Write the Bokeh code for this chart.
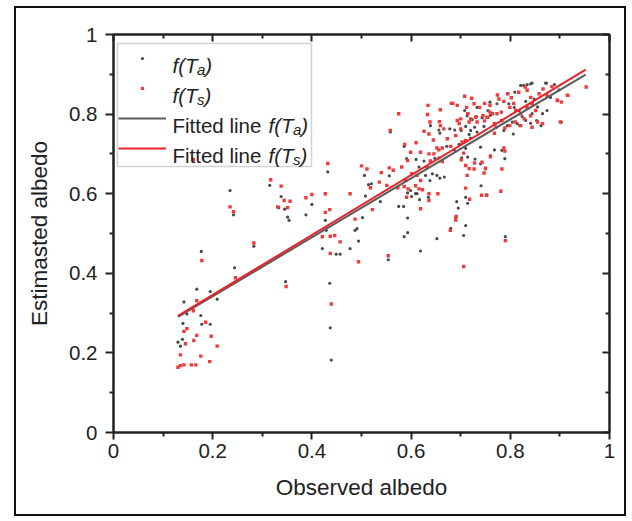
from bokeh.plotting import figure
from bokeh.layouts import row, column
from bokeh.models import (Range1d, FixedTicker, LinearAxis, Label, Legend,
                          LegendItem, ColumnDataSource, BoxAnnotation, Spacer)
from bokeh.embed import file_html
from bokeh.resources import INLINE

# ---------------- data ----------------
x_ticks = [0, 0.2, 0.4, 0.6, 0.8, 1.0]
tick_labels = ["0", "0.2", "0.4", "0.6", "0.8", "1"]
minor_ticks = [0.1, 0.3, 0.5, 0.7, 0.9]

# f(Ta): (observed, estimated)
ta_points = [
    (0.130, 0.227), (0.135, 0.217), (0.139, 0.234), (0.142, 0.328), (0.140, 0.274),
    (0.148, 0.298), (0.168, 0.360), (0.176, 0.294), (0.178, 0.272), (0.195, 0.272),
    (0.195, 0.354), (0.177, 0.455), (0.209, 0.335),
    (0.235, 0.608), (0.242, 0.547), (0.244, 0.414), (0.283, 0.468), (0.315, 0.621),
    (0.338, 0.593), (0.345, 0.561), (0.351, 0.541), (0.354, 0.533), (0.347, 0.379),
    (0.333, 0.565), (0.388, 0.547), (0.400, 0.573), (0.421, 0.462), (0.429, 0.508),
    (0.432, 0.655), (0.436, 0.375), (0.437, 0.263), (0.439, 0.182), (0.449, 0.448),
    (0.457, 0.448), (0.427, 0.533), (0.477, 0.462), (0.487, 0.508), (0.491, 0.512),
    (0.494, 0.481), (0.502, 0.540), (0.506, 0.646), (0.508, 0.594), (0.514, 0.623),
    (0.520, 0.625), (0.538, 0.580), (0.556, 0.645), (0.554, 0.434), (0.558, 0.755),
    (0.575, 0.801),
    (0.591, 0.688), (0.586, 0.719), (0.610, 0.686), (0.616, 0.667), (0.626, 0.682),
    (0.639, 0.682), (0.638, 0.633), (0.648, 0.689), (0.658, 0.639), (0.667, 0.642),
    (0.672, 0.719), (0.687, 0.710), (0.697, 0.724), (0.702, 0.690), (0.714, 0.692),
    (0.729, 0.687), (0.740, 0.675), (0.750, 0.662), (0.717, 0.749), (0.720, 0.740),
    (0.733, 0.755), (0.747, 0.769), (0.720, 0.759), (0.728, 0.767), (0.710, 0.769),
    (0.701, 0.759), (0.688, 0.760), (0.678, 0.763), (0.658, 0.752), (0.656, 0.760),
    (0.639, 0.771), (0.715, 0.802), (0.723, 0.786), (0.732, 0.794), (0.743, 0.791),
    (0.755, 0.791), (0.760, 0.797), (0.787, 0.759), (0.794, 0.771), (0.806, 0.750),
    (0.783, 0.709), (0.789, 0.688), (0.768, 0.710), (0.740, 0.717), (0.710, 0.714),
    (0.741, 0.620), (0.760, 0.696), (0.710, 0.520), (0.706, 0.495), (0.680, 0.513),
    (0.690, 0.541), (0.652, 0.487), (0.619, 0.456), (0.586, 0.492), (0.593, 0.502),
    (0.593, 0.539), (0.575, 0.568), (0.635, 0.591), (0.612, 0.600), (0.601, 0.593),
    (0.599, 0.608), (0.617, 0.585), (0.629, 0.646), (0.643, 0.650), (0.652, 0.646),
    (0.710, 0.591), (0.714, 0.576), (0.692, 0.580), (0.695, 0.564), (0.656, 0.690),
    (0.753, 0.597), (0.790, 0.492), (0.827, 0.872), (0.834, 0.874), (0.841, 0.876),
    (0.844, 0.878), (0.821, 0.872), (0.809, 0.855), (0.794, 0.851), (0.871, 0.878),
    (0.889, 0.874), (0.898, 0.861), (0.797, 0.826), (0.808, 0.817), (0.818, 0.809),
    (0.824, 0.794), (0.831, 0.784), (0.841, 0.777), (0.853, 0.784), (0.862, 0.771),
    (0.819, 0.771), (0.844, 0.801), (0.855, 0.818), (0.865, 0.801), (0.874, 0.809),
    (0.881, 0.842), (0.903, 0.780), (0.848, 0.838), (0.831, 0.832), (0.773, 0.826),
    (0.759, 0.830), (0.755, 0.809), (0.733, 0.817), (0.708, 0.809), (0.713, 0.796),
    (0.804, 0.780), (0.814, 0.776), (0.873, 0.878), (0.593, 0.602), (0.609, 0.600),
    (0.585, 0.568),
]

# f(Ts): (observed, estimated)
ts_points = [
    (0.130, 0.164), (0.135, 0.168), (0.142, 0.170), (0.157, 0.170), (0.166, 0.170),
    (0.135, 0.195), (0.142, 0.254), (0.148, 0.261), (0.162, 0.231), (0.168, 0.244),
    (0.176, 0.192), (0.186, 0.277), (0.194, 0.178), (0.197, 0.242), (0.209, 0.217),
    (0.161, 0.306), (0.168, 0.331), (0.178, 0.432), (0.145, 0.223), (0.161, 0.686),
    (0.235, 0.567), (0.242, 0.555), (0.246, 0.389), (0.283, 0.476), (0.317, 0.635),
    (0.338, 0.619), (0.344, 0.583), (0.351, 0.565), (0.356, 0.581), (0.348, 0.367),
    (0.331, 0.567), (0.388, 0.590), (0.400, 0.598), (0.427, 0.600), (0.427, 0.553),
    (0.432, 0.676), (0.436, 0.560), (0.439, 0.323), (0.437, 0.450), (0.421, 0.492),
    (0.446, 0.495), (0.457, 0.479), (0.437, 0.493), (0.477, 0.600), (0.487, 0.536),
    (0.494, 0.429), (0.500, 0.670), (0.511, 0.662), (0.518, 0.615), (0.522, 0.560),
    (0.536, 0.629), (0.540, 0.653), (0.551, 0.621), (0.556, 0.665), (0.554, 0.444),
    (0.558, 0.759), (0.564, 0.659),
    (0.575, 0.801), (0.587, 0.724), (0.610, 0.728), (0.626, 0.757), (0.633, 0.799),
    (0.638, 0.780), (0.645, 0.735), (0.657, 0.781), (0.659, 0.771), (0.681, 0.827),
    (0.684, 0.827), (0.693, 0.822), (0.708, 0.845), (0.722, 0.840), (0.712, 0.817),
    (0.727, 0.826), (0.738, 0.817), (0.748, 0.827), (0.759, 0.822), (0.774, 0.848),
    (0.777, 0.838), (0.787, 0.832), (0.795, 0.851), (0.802, 0.841), (0.807, 0.827),
    (0.817, 0.855), (0.830, 0.868), (0.834, 0.860), (0.841, 0.842), (0.844, 0.826),
    (0.851, 0.809), (0.858, 0.851), (0.866, 0.863), (0.874, 0.847), (0.884, 0.869),
    (0.895, 0.834), (0.903, 0.830), (0.915, 0.847), (0.953, 0.868), (0.821, 0.801),
    (0.828, 0.788), (0.841, 0.796), (0.855, 0.780), (0.865, 0.776), (0.834, 0.817),
    (0.811, 0.809), (0.799, 0.817), (0.782, 0.805), (0.773, 0.801), (0.764, 0.801),
    (0.753, 0.792), (0.745, 0.796), (0.730, 0.792), (0.720, 0.788), (0.714, 0.801),
    (0.700, 0.788), (0.697, 0.776), (0.690, 0.746), (0.700, 0.763), (0.717, 0.780),
    (0.733, 0.780), (0.748, 0.783), (0.759, 0.805), (0.768, 0.776), (0.771, 0.767),
    (0.783, 0.784), (0.789, 0.765), (0.799, 0.771), (0.810, 0.780), (0.821, 0.771),
    (0.844, 0.767), (0.666, 0.763), (0.673, 0.738), (0.646, 0.700), (0.656, 0.710),
    (0.663, 0.715), (0.680, 0.719), (0.703, 0.730), (0.710, 0.734), (0.706, 0.702),
    (0.701, 0.685), (0.710, 0.671), (0.728, 0.677), (0.727, 0.662), (0.713, 0.646),
    (0.717, 0.663), (0.747, 0.652), (0.750, 0.664), (0.743, 0.679), (0.760, 0.693),
    (0.768, 0.752), (0.787, 0.715), (0.789, 0.707), (0.783, 0.662), (0.781, 0.606),
    (0.790, 0.482), (0.752, 0.596), (0.742, 0.596), (0.710, 0.614), (0.690, 0.534),
    (0.691, 0.543), (0.679, 0.508), (0.718, 0.586), (0.706, 0.417), (0.636, 0.700),
    (0.619, 0.704), (0.632, 0.667), (0.639, 0.682), (0.652, 0.715), (0.623, 0.610),
    (0.636, 0.600), (0.654, 0.600), (0.636, 0.750), (0.599, 0.704), (0.593, 0.683),
    (0.581, 0.667), (0.612, 0.646), (0.601, 0.650), (0.619, 0.633), (0.589, 0.633),
    (0.586, 0.618), (0.609, 0.620), (0.616, 0.612), (0.594, 0.612), (0.573, 0.615),
    (0.619, 0.562), (0.636, 0.583), (0.591, 0.591), (0.663, 0.681), (0.693, 0.784),
    (0.659, 0.811), (0.634, 0.822), (0.901, 0.780), (0.916, 0.847), (0.895, 0.835),
]

# fitted lines: estimated = slope * observed + intercept
fit_x = [0.13, 0.952]
ta_slope, ta_intercept = 0.741, 0.194
ts_slope, ts_intercept = 0.753, 0.195

# ---------------- style ----------------
FONT = "Liberation Sans"
TXT = "#222222"
GRAY_PT = "#4a4a4a"
RED_PT = "#ef3b3b"
GRAY_LN = "#5c5c5c"
RED_LN = "#e8242a"

BORDER = 2
PAD_LEFT, PAD_TOP = 14, 6            # outer border position on the page
CANVAS_LEFT = PAD_LEFT + BORDER
CANVAS_TOP = PAD_TOP + BORDER
FRAME_W, FRAME_H = 496, 398
ML, MR, MT, MB = 97, 19, 26, 86
FRAME_LEFT = CANVAS_LEFT + ML        # 113
FRAME_TOP = CANVAS_TOP + MT          # 34

p = figure(width=ML + FRAME_W + MR, height=MT + FRAME_H + MB,
           x_range=Range1d(0, 1), y_range=Range1d(0, 1),
           output_backend="svg", toolbar_location=None,
           min_border_left=ML, min_border_right=MR,
           min_border_top=MT, min_border_bottom=MB)
p.styles = {"border": f"{BORDER}px solid #111111"}
p.xgrid.visible = False
p.ygrid.visible = False
p.outline_line_color = TXT
p.outline_line_width = 2
p.background_fill_color = "white"
p.border_fill_color = "white"


def style_axis(ax, out_major, out_minor, in_major, in_minor, show_labels):
    ax.ticker = FixedTicker(ticks=x_ticks, minor_ticks=minor_ticks)
    ax.axis_line_color = TXT
    ax.axis_line_width = 2
    ax.major_tick_line_color = TXT
    ax.major_tick_line_width = 2
    ax.minor_tick_line_color = TXT
    ax.minor_tick_line_width = 2
    ax.major_tick_out = out_major
    ax.major_tick_in = in_major
    ax.minor_tick_out = out_minor
    ax.minor_tick_in = in_minor
    if show_labels:
        ax.major_label_overrides = {t: l for t, l in zip(x_ticks, tick_labels)}
        ax.major_label_text_font = FONT
        ax.major_label_text_font_size = "20.5px"
        ax.major_label_text_color = TXT
        ax.axis_label_text_font = FONT
        ax.axis_label_text_font_size = "22.5px"
        ax.axis_label_text_font_style = "normal"
        ax.axis_label_text_color = TXT
    else:
        ax.major_label_overrides = {t: "" for t in x_ticks}
        ax.major_label_text_font_size = "1px"
        ax.major_label_standoff = 0


xa = p.xaxis[0]
ya = p.yaxis[0]
style_axis(xa, 7, 4, 0, 0, True)
style_axis(ya, 8, 4, 0, 0, True)
xa.axis_label = "Observed albedo"
ya.axis_label = "Estimasted albedo"
xa.major_label_standoff = 4
ya.major_label_standoff = 8
xa.axis_label_standoff = 14
ya.axis_label_standoff = 14

top_ax = LinearAxis()
right_ax = LinearAxis()
style_axis(top_ax, 0, 0, 7, 4, False)
style_axis(right_ax, 0, 0, 7, 4, False)
p.add_layout(top_ax, "above")
p.add_layout(right_ax, "right")

# ---------------- glyphs ----------------
ta_src = ColumnDataSource(dict(x=[a for a, b in ta_points], y=[b for a, b in ta_points]))
ts_src = ColumnDataSource(dict(x=[a for a, b in ts_points], y=[b for a, b in ts_points]))
r_ta = p.scatter("x", "y", source=ta_src, marker="circle", size=3.2,
                 fill_color=GRAY_PT, line_color=None)
r_ts = p.scatter("x", "y", source=ts_src, marker="square", size=3.4,
                 fill_color=RED_PT, line_color=None)

fit_ta_y = [ta_slope * v + ta_intercept for v in fit_x]
fit_ts_y = [ts_slope * v + ts_intercept for v in fit_x]
r_fta = p.line(fit_x, fit_ta_y, line_color=GRAY_LN, line_width=2)
r_fts = p.line(fit_x, fit_ts_y, line_color=RED_LN, line_width=2)


# ---------------- legend ----------------
def fx(px):
    return (px - FRAME_LEFT) / FRAME_W


def fy(py):
    return (FRAME_H - (py - FRAME_TOP)) / FRAME_H


# legend frame (page px): left 117, right 311, top 43, bottom 166
p.add_layout(BoxAnnotation(left=fx(117), right=fx(311), top=fy(43), bottom=fy(166),
                           fill_color=None, line_color="#6b6b6b", line_width=1.5))

row_px = [58, 88, 118, 148]         # legend row centres (page px)
ROW_H = 8
leg = Legend(items=[LegendItem(label=" ", renderers=[r_ta]),
                    LegendItem(label=" ", renderers=[r_ts]),
                    LegendItem(label=" ", renderers=[r_fta]),
                    LegendItem(label=" ", renderers=[r_fts])],
             location=(118 - FRAME_LEFT,
                       FRAME_TOP + FRAME_H - (row_px[-1] + ROW_H / 2)),
             glyph_width=48, glyph_height=ROW_H, label_height=ROW_H,
             label_width=1, label_standoff=0,
             padding=0, spacing=30 - ROW_H, margin=0,
             border_line_color=None, background_fill_alpha=0,
             label_text_font_size="1px")
p.add_layout(leg)

TEXT_PX = 172


def piece(py, xoff, text, size, italic, sub=False):
    p.add_layout(Label(x=fx(TEXT_PX), y=fy(py), x_offset=xoff,
                       y_offset=(-11 if sub else -7), text=text,
                       text_font=FONT, text_font_size=size,
                       text_font_style=("italic" if italic else "normal"),
                       text_color=TXT, text_baseline="alphabetic",
                       text_align="left"))


legend_rows = [("", "a"), ("", "s"), ("Fitted line", "a"), ("Fitted line", "s")]
for py, (prefix, sub) in zip(row_px, legend_rows):
    off = 0
    if prefix:
        piece(py, 0, prefix, "20.5px", False)
        off = 96
    piece(py, off, "f(T", "20.5px", True)
    piece(py, off + 24.5, sub, "15px", True, sub=True)
    piece(py, off + 24.5 + (8.3 if sub == "a" else 7.5), ")", "20.5px", True)

layout = column(Spacer(width=10, height=PAD_TOP),
                row(Spacer(width=PAD_LEFT, height=10), p))
open("out.html", "w").write(file_html(layout, INLINE))
